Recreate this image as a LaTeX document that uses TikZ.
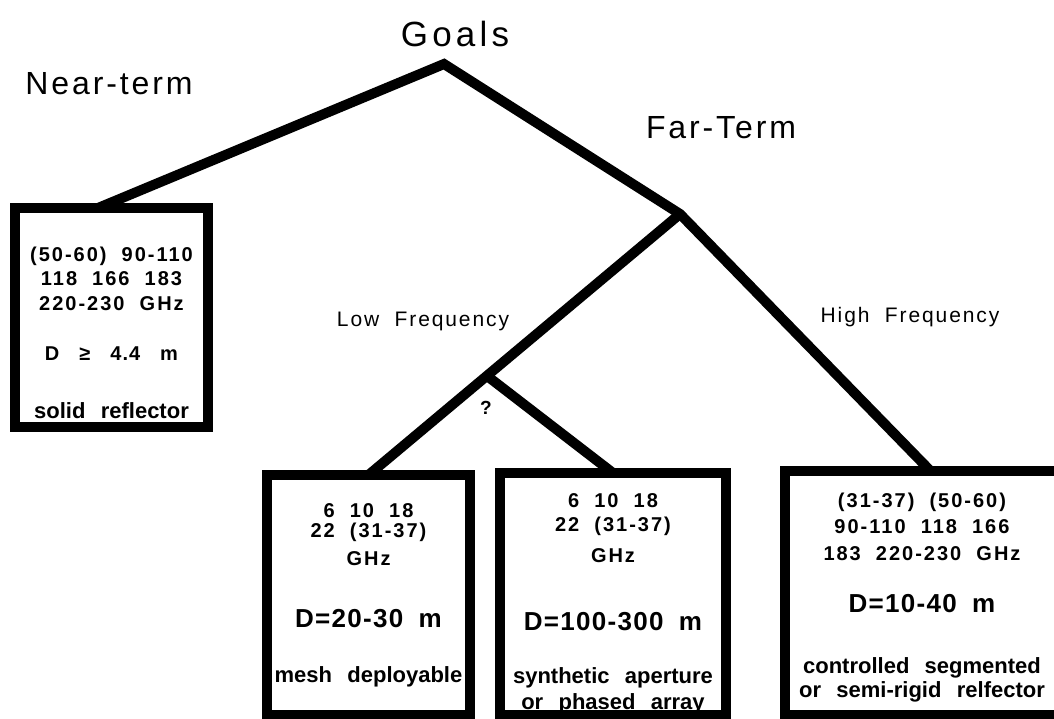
\documentclass[tikz,border=0pt]{standalone}
\usepackage{fontspec}
\setmainfont{Liberation Sans}
\newfontfamily\goalsfont[LetterSpace=12]{Liberation Sans}
\newfontfamily\termfont[LetterSpace=9,WordSpace=2.0]{Liberation Sans}
\newfontfamily\freqfont[LetterSpace=10,WordSpace=2.0]{Liberation Sans}
\newfontfamily\diamfont[LetterSpace=5,WordSpace=1.8]{Liberation Sans}
\newfontfamily\kindfont[WordSpace=2.5]{Liberation Sans}
\usetikzlibrary{positioning,calc}

\newcommand{\fq}{\freqfont\fontsize{20}{20}\selectfont}
\newcommand{\dm}{\diamfont\fontsize{26}{20}\selectfont}
\newcommand{\kd}{\kindfont\fontsize{22}{20}\selectfont}

\tikzset{
  goalbox/.style={draw, line width=10pt, inner sep=0pt, outer sep=0pt},
  boxtext/.style={align=center, inner sep=0pt, anchor=north,
    font={\bfseries\fontsize{19}{20}\selectfont\lineskiplimit=-100pt}},
  branch/.style={line width=10pt, line join=miter},
  termlabel/.style={font=\termfont\fontsize{32}{36}\selectfont, anchor=base, inner sep=0pt},
  freqlabel/.style={font=\termfont\fontsize{21}{24}\selectfont, anchor=base, inner sep=0pt}
}

\begin{document}
\begin{tikzpicture}[x=1pt, y=1pt]
  \useasboundingbox (0,0) rectangle (1054,719);

  % labels along the tree
  \node[font=\goalsfont\fontsize{35}{40}\selectfont, anchor=base, inner sep=0pt] (goals) at (455,672) {Goals};
  \node[termlabel] (near-lbl) at (109,624) {Near-term};
  \node[termlabel] (far-lbl) at (721,580) {Far-Term};
  \node[freqlabel] (low-lbl) at (423,392) {Low Frequency};
  \node[freqlabel] (high-lbl) at (910,396) {High Frequency};
  \node[font=\bfseries\fontsize{19}{20}\selectfont, anchor=base, inner sep=0pt] (unsure) at (486,304) {?};

  % boxes
  \node[goalbox, minimum width=193pt, minimum height=219pt] (near) at (111.5,401.5) {};
  \node[goalbox, minimum width=203pt, minimum height=240pt] (mesh) at (368.5,124) {};
  \node[goalbox, minimum width=226pt, minimum height=242pt] (synth) at (613,125) {};
  \node[goalbox, minimum width=274pt, minimum height=244pt] (high) at (922,126) {};

  % tree
  \coordinate (apex) at (444,655);
  \coordinate (fork) at (680,505);
  \coordinate (split) at ($(fork)!0.62!(mesh.north)$);
  \draw[branch] (near.97) -- (apex) -- (fork) -- (high.86);
  \draw[branch] (fork) -- (mesh.north);
  \draw[branch] (split) -- (synth.north);

  % box contents
  \node[boxtext, below=39pt of near.north] (near-txt) {%
    {\fq (50-60) 90-110}\\[4pt]
    {\fq 118 166 183}\\[5pt]
    {\fq 220-230 GHz}\\[30pt]
    {\dm\fontsize{20}{20}\selectfont D\quad≥\quad4.4\quad m}\\[38pt]
    {\kd solid reflector}};
  \node[boxtext, below=28pt of mesh.north] (mesh-txt) {%
    {\fq 6 10 18}\\
    {\fq 22 (31-37)}\\[8pt]
    {\fq GHz}\\[42pt]
    {\dm D=20-30 m}\\[35pt]
    {\kd mesh deployable}};
  \node[boxtext, below=20pt of synth.north] (synth-txt) {%
    {\fq 6 10 18}\\[4pt]
    {\fq 22 (31-37)}\\[11pt]
    {\fq GHz}\\[48pt]
    {\dm D=100-300 m}\\[33pt]
    {\kd synthetic aperture}\\[6pt]
    {\kd or phased array}};
  \node[boxtext, below=22pt of high.north] (high-txt) {%
    {\fq (31-37) (50-60)}\\[6pt]
    {\fq 90-110 118 166}\\[7pt]
    {\fq 183 220-230 GHz}\\[32pt]
    {\dm D=10-40 m}\\[41pt]
    {\kd controlled segmented}\\[4pt]
    {\kd or semi-rigid relfector}};
\end{tikzpicture}
\end{document}
